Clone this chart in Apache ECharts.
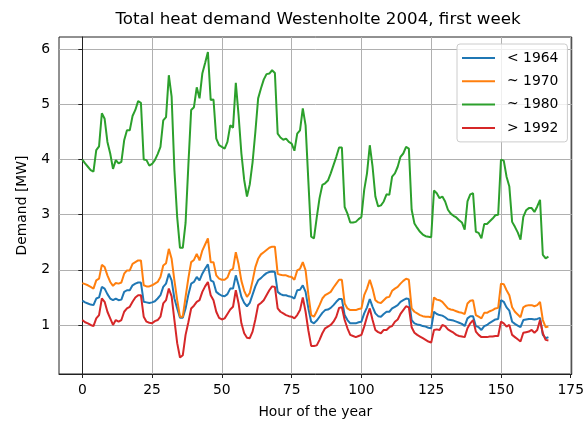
<!DOCTYPE html>
<html>
<head>
<meta charset="utf-8">
<script src="https://cdn.jsdelivr.net/npm/echarts@6/dist/echarts.min.js"></script>
<style>
html,body{margin:0;padding:0;background:#fff;}
#c{width:587px;height:424px;}
</style>
</head>
<body>
<div id="c"></div>
<script>
const seriesNames = ['< 1964', '~ 1970', '~ 1980', '> 1992'];
const xTicks = [0, 25, 50, 75, 100, 125, 150, 175];
const yTicks = [1, 2, 3, 4, 5, 6];

const before1964 = [
1.44,1.41,1.39,1.37,1.36,1.48,1.50,1.69,1.66,1.56,1.48,1.45,1.48,1.45,1.46,1.60,1.63,1.63,1.72,1.75,
1.77,1.77,1.42,1.41,1.40,1.41,1.43,1.48,1.54,1.69,1.75,1.93,1.81,1.48,1.30,1.13,1.13,1.30,1.55,1.75,
1.78,1.87,1.81,1.93,2.02,2.10,1.81,1.78,1.60,1.56,1.53,1.52,1.56,1.66,1.66,1.90,1.72,1.51,1.40,1.34,
1.40,1.55,1.70,1.81,1.85,1.90,1.94,1.96,1.97,1.96,1.60,1.56,1.54,1.54,1.52,1.51,1.48,1.63,1.64,1.72,
1.60,1.30,1.06,1.03,1.08,1.15,1.22,1.27,1.28,1.31,1.36,1.42,1.47,1.47,1.18,1.09,1.03,1.03,1.03,1.05,
1.06,1.21,1.32,1.47,1.33,1.21,1.16,1.15,1.20,1.24,1.24,1.30,1.33,1.36,1.42,1.45,1.48,1.47,1.09,1.03,
1.01,1.00,0.98,0.97,0.95,0.94,1.24,1.20,1.18,1.17,1.14,1.10,1.09,1.08,1.06,1.04,1.02,0.98,1.12,1.16,
1.16,0.98,0.96,0.91,0.98,1.00,1.04,1.07,1.10,1.11,1.45,1.42,1.32,1.26,1.06,1.02,0.99,0.96,1.09,1.10,
1.11,1.11,1.10,1.11,1.13,0.82,0.76,0.78
];
const around1970 = [
1.76,1.74,1.72,1.69,1.66,1.81,1.84,2.09,2.05,1.90,1.78,1.71,1.76,1.75,1.77,1.93,1.99,1.99,2.11,2.14,
2.17,2.17,1.72,1.70,1.70,1.72,1.75,1.78,1.87,2.08,2.12,2.38,2.20,1.81,1.45,1.15,1.15,1.51,1.85,2.14,
2.18,2.29,2.17,2.35,2.46,2.57,2.14,2.14,1.90,1.84,1.82,1.82,1.86,1.99,2.02,2.32,2.10,1.80,1.62,1.51,
1.58,1.80,2.05,2.20,2.28,2.32,2.36,2.40,2.42,2.42,1.93,1.91,1.90,1.90,1.88,1.87,1.82,1.99,2.02,2.14,
1.99,1.55,1.18,1.15,1.25,1.36,1.48,1.54,1.57,1.60,1.68,1.75,1.82,1.82,1.39,1.30,1.27,1.27,1.27,1.29,
1.30,1.54,1.66,1.82,1.66,1.45,1.41,1.40,1.45,1.50,1.51,1.62,1.66,1.69,1.75,1.80,1.84,1.82,1.30,1.24,
1.21,1.18,1.16,1.15,1.15,1.14,1.50,1.46,1.45,1.42,1.36,1.30,1.28,1.27,1.25,1.23,1.22,1.20,1.39,1.44,
1.45,1.18,1.15,1.12,1.22,1.22,1.25,1.27,1.30,1.31,1.75,1.74,1.63,1.54,1.32,1.24,1.19,1.14,1.32,1.35,
1.36,1.36,1.34,1.36,1.42,1.09,0.96,0.97
];
const around1980 = [
4.00,3.93,3.87,3.81,3.78,4.17,4.24,4.84,4.74,4.32,4.11,3.83,3.99,3.93,3.96,4.35,4.53,4.53,4.79,4.90,
5.06,5.03,4.00,3.99,3.89,3.92,3.99,4.10,4.23,4.71,4.77,5.53,5.14,3.81,2.95,2.40,2.40,2.85,3.90,4.90,
4.95,5.31,5.11,5.56,5.75,5.95,5.08,5.09,4.38,4.26,4.23,4.20,4.32,4.62,4.58,5.39,4.80,4.11,3.63,3.33,
3.55,3.95,4.50,5.11,5.29,5.45,5.55,5.56,5.62,5.57,4.47,4.40,4.36,4.38,4.32,4.29,4.16,4.47,4.53,4.93,
4.62,3.60,2.60,2.57,2.95,3.30,3.54,3.57,3.62,3.75,3.90,4.05,4.22,4.22,3.14,3.02,2.86,2.86,2.87,2.92,
2.96,3.45,3.75,4.26,3.87,3.33,3.15,3.17,3.24,3.37,3.36,3.69,3.75,3.87,4.05,4.11,4.23,4.20,3.09,2.84,
2.76,2.69,2.64,2.61,2.60,2.59,3.44,3.39,3.30,3.33,3.24,3.09,3.02,2.98,2.95,2.90,2.86,2.73,3.24,3.37,
3.39,2.69,2.67,2.57,2.83,2.83,2.88,2.93,2.99,3.00,4.00,3.98,3.69,3.51,2.87,2.78,2.68,2.55,2.96,3.08,
3.12,3.12,3.05,3.15,3.27,2.27,2.21,2.24
];
const after1992 = [
1.09,1.05,1.03,1.00,0.98,1.12,1.18,1.48,1.42,1.24,1.12,1.00,1.09,1.06,1.09,1.24,1.30,1.33,1.42,1.50,
1.54,1.54,1.15,1.06,1.04,1.03,1.07,1.09,1.15,1.39,1.45,1.66,1.52,1.09,0.67,0.41,0.45,0.82,1.05,1.30,
1.35,1.42,1.45,1.60,1.70,1.78,1.54,1.45,1.24,1.13,1.10,1.12,1.20,1.28,1.33,1.63,1.39,1.03,0.85,0.77,
0.76,0.88,1.10,1.36,1.40,1.45,1.54,1.63,1.70,1.69,1.30,1.24,1.21,1.18,1.16,1.15,1.12,1.18,1.27,1.50,
1.24,0.90,0.62,0.62,0.63,0.73,0.85,0.94,0.97,1.00,1.06,1.15,1.31,1.32,1.09,0.94,0.82,0.80,0.78,0.80,
0.82,0.97,1.15,1.30,1.09,0.91,0.87,0.85,0.91,0.91,0.96,0.98,1.06,1.10,1.20,1.27,1.34,1.32,0.96,0.86,
0.82,0.79,0.76,0.73,0.70,0.68,0.91,0.92,0.91,1.00,0.98,0.92,0.89,0.86,0.82,0.80,0.79,0.78,0.94,1.03,
1.09,0.88,0.82,0.78,0.78,0.78,0.79,0.79,0.80,0.80,1.06,1.03,0.97,1.00,0.82,0.78,0.74,0.70,0.86,0.87,
0.88,0.91,0.86,0.91,1.09,0.85,0.73,0.72
];

const hours = before1964.map((_, i) => i);
const seriesValues = [before1964, around1970, around1980, after1992];
const colors = ['#1f77b4', '#ff7f0e', '#2ca02c', '#d62728'];
const FONT = 'DejaVu Sans';

const chart = echarts.init(document.getElementById('c'), null, {renderer: 'canvas'});
chart.setOption({
  animation: false,
  backgroundColor: '#ffffff',
  title: {
    text: 'Total heat demand Westenholte 2004, first week',
    left: 318, top: 11, textAlign: 'center', padding: 0,
    textStyle: {fontFamily: FONT, fontSize: 16.7, fontWeight: 'normal', color: '#000'}
  },
  legend: {
    orient: 'vertical',
    left: 457, top: 44,
    padding: [7, 9, 7, 5],
    itemWidth: 33, itemHeight: 14, itemGap: 9.3,
    icon: 'path://M0,0 L33,0 L33,2 L0,2 Z',
    symbolKeepAspect: true,
    backgroundColor: 'rgba(255,255,255,0.8)',
    borderColor: '#cccccc', borderWidth: 1, borderRadius: 3,
    textStyle: {fontFamily: FONT, fontSize: 13.9, color: '#000', padding: [0, 0, 0, 7]},
    data: seriesNames
  },
  grid: {
    left: 59, top: 37, width: 518, height: 337,
    show: true, borderColor: '#222', borderWidth: 1, backgroundColor: 'transparent'
  },
  xAxis: {
    type: 'value', min: -8.35, max: 175.35,
    name: 'Hour of the year', nameLocation: 'middle', nameGap: 31,
    nameTextStyle: {fontFamily: FONT, fontSize: 13.9, color: '#000'},
    axisLine: {show: true, lineStyle: {color: '#222', width: 1}},
    axisTick: {show: true, length: 4, customValues: xTicks, lineStyle: {color: '#222'}},
    axisLabel: {customValues: xTicks, margin: 9, fontFamily: FONT, fontSize: 13.9, color: '#000',
      formatter: v => String(v)},
    splitLine: {show: true, lineStyle: {color: '#b0b0b0', width: 1}}
  },
  yAxis: {
    type: 'value', min: 0.111, max: 6.223,
    name: 'Demand [MW]', nameLocation: 'middle', nameGap: 30,
    nameTextStyle: {fontFamily: FONT, fontSize: 13.9, color: '#000'},
    axisLine: {show: true, lineStyle: {color: '#222', width: 1}},
    axisTick: {show: true, length: 4, customValues: yTicks, lineStyle: {color: '#222'}},
    axisLabel: {customValues: yTicks, margin: 9, fontFamily: FONT, fontSize: 13.9, color: '#000',
      formatter: v => String(v)},
    splitLine: {show: true, lineStyle: {color: '#b0b0b0', width: 1}}
  },
  series: seriesNames.map((name, k) => ({
    name: name,
    type: 'line',
    data: hours.map((h, i) => [h, seriesValues[k][i]]),
    symbol: 'none',
    lineStyle: {color: colors[k], width: 2},
    itemStyle: {color: colors[k]},
    z: 2 + k
  }))
});
</script>
</body>
</html>
